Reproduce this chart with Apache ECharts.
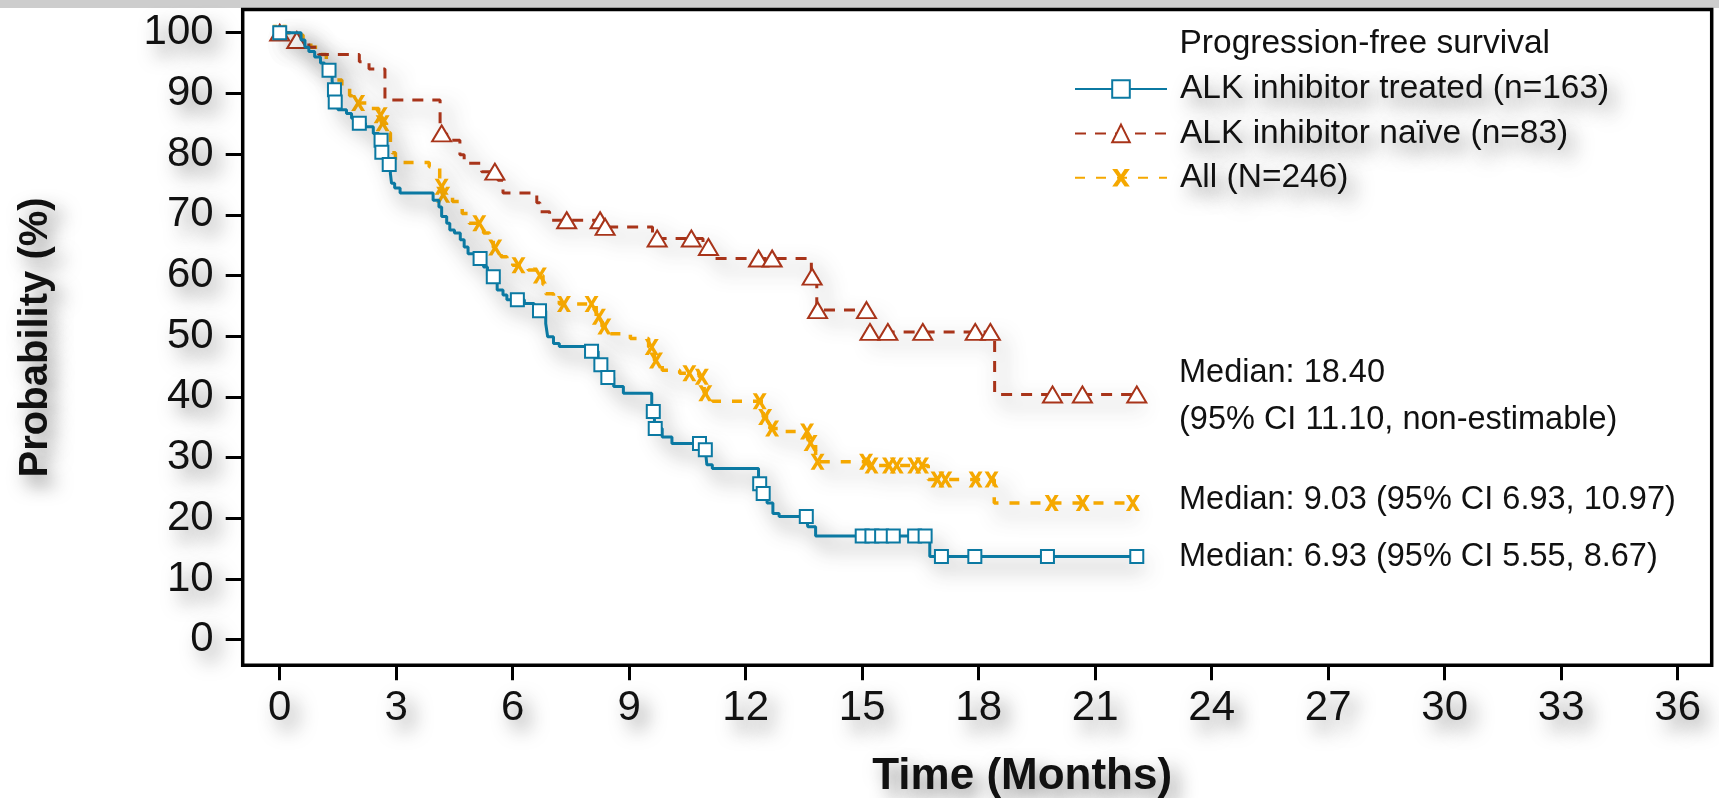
<!DOCTYPE html>
<html>
<head>
<meta charset="utf-8">
<script src="https://cdn.jsdelivr.net/npm/echarts@6/dist/echarts.min.js"></script>
<style>
  html, body { margin: 0; padding: 0; background: #ffffff; }
  #chart { width: 1719px; height: 798px; }
</style>
</head>
<body>
<div id="chart"></div>
<script>
// Axis ticks
const monthTicks = [0, 3, 6, 9, 12, 15, 18, 21, 24, 27, 30, 33, 36];
const probabilityTicks = [0, 10, 20, 30, 40, 50, 60, 70, 80, 90, 100];
// Visible extent of the framed plot area (a little padding beyond the tick range)
const monthExtent = [-0.953, 36.875];
const probabilityExtent = [-4.22, 103.82];

// Kaplan-Meier curves: event times (months) and survival (%) after each event,
// plus censoring times (the survival shown at a censor mark is the curve value there).
const treatedEventT = [0, 0.55, 0.65, 0.75, 0.9, 1.05, 1.15, 1.35, 1.4, 1.42, 1.5, 1.72, 1.85, 1.95, 2.21, 2.41, 2.55, 2.62, 2.7, 2.78,
  2.85, 2.88, 2.96, 3.1, 3.95, 4.1, 4.17, 4.3, 4.38, 4.5, 4.65, 4.75, 4.85, 5.05, 5.25, 5.35, 5.6, 5.75, 5.85, 6.3,
  6.55, 6.85, 6.9, 7.05, 7.2, 7.95, 8.2, 8.4, 8.6, 8.85, 9.58, 9.65, 9.85, 10.1, 10.9, 11.0, 11.14, 12.33, 12.42, 12.55,
  12.7, 12.86, 13.6, 13.8, 16.74];
const treatedEventS = [100, 98.8, 97.6, 96.9, 96.0, 95.0, 93.8, 92.0, 90.6, 88.6, 87.3, 86.7, 85.9, 85.1, 84.5, 83.4, 82.3, 80.3, 79.3, 78.3,
  76.8, 75.2, 74.4, 73.6, 72.4, 71.3, 69.7, 68.6, 67.5, 67.0, 65.9, 64.7, 63.6, 62.8, 61.4, 59.8, 57.6, 56.8, 56.0, 55.4,
  54.2, 52.1, 49.9, 48.8, 48.3, 47.5, 45.3, 43.2, 41.7, 40.6, 37.6, 34.8, 33.4, 32.3, 31.3, 28.8, 28.2, 25.7, 24.1, 22.5,
  20.8, 20.3, 18.6, 17.1, 13.7];
const treatedCensorT = [0, 1.27, 1.41, 1.43, 2.05, 2.61, 2.63, 2.82, 5.16, 5.5, 6.12, 6.69, 8.03, 8.27, 8.45, 9.62, 9.67,
  10.81, 10.96, 12.36, 12.45, 13.56, 15.0, 15.25, 15.5, 15.8, 16.35, 16.62, 17.04, 17.9, 19.77, 22.07];

const naiveEventT = [0, 0.35, 0.75, 1.0, 2.05, 2.3, 2.71, 4.13, 4.3, 4.64, 4.75, 5.2, 5.62, 5.75, 6.62, 6.7, 6.95,
  8.3, 9.6, 10.9, 11.1, 13.69, 13.83, 15.15, 18.41];
const naiveEventS = [100, 98.8, 97.6, 96.4, 95.2, 94.0, 88.9, 83.4, 82.3, 79.9, 78.5, 77.1, 75.7, 73.6, 72.0, 70.5, 69.1,
  68.0, 66.1, 64.7, 62.8, 59.8, 54.3, 50.7, 40.4];
const naiveCensorT = [0, 0.44, 4.17, 5.54, 7.39, 8.25, 8.38, 9.72, 10.6, 11.04, 12.33, 12.68, 13.71, 13.85, 15.11, 15.2,
  15.66, 16.56, 17.91, 18.3, 19.9, 20.67, 22.07];

const allEventT = [0, 0.4, 0.6, 0.8, 1.0, 1.2, 1.35, 1.45, 1.6, 1.8, 1.95, 2.3, 2.55, 2.62, 2.75, 2.85, 2.9, 2.98, 3.85, 4.12,
  4.19, 4.45, 4.7, 4.88, 5.25, 5.4, 5.5, 5.7, 5.85, 6.0, 6.4, 6.6, 6.78, 6.85, 7.05, 7.2, 8.15, 8.3, 8.45, 9.03,
  9.5, 9.65, 9.85, 10.3, 10.8, 10.93, 11.15, 12.45, 12.62, 12.9, 13.62, 13.8, 15.18, 16.7, 18.4];
const allEventS = [100, 99.6, 98.8, 97.6, 96.4, 95.0, 93.5, 92.2, 90.8, 89.6, 88.4, 87.5, 86.4, 85.1, 83.5, 81.8, 80.2, 78.6, 77.9, 74.6,
  73.3, 72.2, 70.2, 68.6, 67.0, 65.8, 64.6, 63.1, 62.3, 61.7, 60.9, 60.0, 58.5, 57.0, 56.0, 55.3, 53.2, 51.6, 50.4, 49.6,
  48.2, 46.0, 44.4, 43.9, 43.3, 40.6, 39.3, 36.7, 34.8, 34.3, 32.4, 29.3, 28.7, 26.4, 22.5];
const allCensorT = [0, 2.02, 2.6, 2.65, 4.17, 4.21, 5.14, 5.55, 6.15, 6.7, 7.32, 8.03, 8.22, 8.36, 9.58, 9.69, 10.55,
  10.87, 10.96, 12.36, 12.5, 12.68, 13.58, 13.67, 13.85, 15.1, 15.24, 15.69, 15.89, 16.34, 16.54, 16.94, 17.14,
  17.92, 18.33, 19.88, 20.68, 21.97];

const seriesNames = ['ALK inhibitor treated (n=163)', 'ALK inhibitor naïve (n=83)', 'All (N=246)'];
const legendTitle = 'Progression-free survival';
const medianNotes = [
  'Median: 18.40',
  '(95% CI 11.10, non-estimable)',
  'Median: 9.03 (95% CI 6.93, 10.97)',
  'Median: 6.93 (95% CI 5.55, 8.67)'
];

const FONT = '"Liberation Sans", Arial, sans-serif';
const BLUE = '#0B79A2';
const RED = '#A8341A';
const GOLD = '#F5A800';
// Soft grey drop shadow behind text and curves
const HAZE = { color: 'rgba(40,40,40,0.55)', blur: 18, x: 8, y: 10 };

// Survival value of a step curve at time t
function survivalAt(ts, ss, t) {
  let s = ss[0];
  for (let i = 0; i < ts.length; i++) {
    if (ts[i] <= t) s = ss[i]; else break;
  }
  return s;
}

// Merge events (no symbol) and censor marks (symbol) into one step series
function kmData(ts, ss, cs) {
  const items = ts.map((t, i) => ({ value: [t, ss[i]], symbol: 'none', order: 0 }));
  cs.forEach(t => items.push({ value: [t, survivalAt(ts, ss, t)], order: 1 }));
  items.sort((a, b) => a.value[0] - b.value[0] || a.order - b.order);
  return items.map(d => d.symbol ? { value: d.value, symbol: d.symbol } : { value: d.value });
}

// Bold "x" censor mark
const xMark = 'path://M0,0H3.8L6.5,4.3L9.2,0H13L8.4,7L13,14H9.2L6.5,9.7L3.8,14H0L4.6,7Z';

const textHaze = {
  textShadowColor: HAZE.color, textShadowBlur: HAZE.blur,
  textShadowOffsetX: HAZE.x, textShadowOffsetY: HAZE.y
};
const lineHaze = {
  shadowColor: 'rgba(40,40,40,0.75)', shadowBlur: 20, shadowOffsetX: 8, shadowOffsetY: 10
};
const noteStyle = (size) => ({
  font: size + 'px ' + FONT, fill: '#111', verticalAlign: 'middle',
  shadowColor: HAZE.color, shadowBlur: HAZE.blur, shadowOffsetX: HAZE.x, shadowOffsetY: HAZE.y
});

const chart = echarts.init(document.getElementById('chart'), null, { renderer: 'canvas' });

chart.setOption({
  animation: false,
  backgroundColor: '#ffffff',
  grid: {
    left: 242.7, right: 7.3, top: 9.5, bottom: 132.7,
    containLabel: false, outerBoundsMode: 'none',
    show: true, borderColor: '#000', borderWidth: 3.5, backgroundColor: 'transparent'
  },
  xAxis: {
    type: 'value', position: 'bottom',
    min: monthExtent[0], max: monthExtent[1],
    axisLine: { show: false, onZero: false },
    axisTick: { show: true, length: 15, customValues: monthTicks, lineStyle: { color: '#000', width: 3 } },
    splitLine: { show: false },
    axisLabel: { customValues: monthTicks, fontFamily: FONT, fontSize: 42, color: '#111', margin: 22, ...textHaze },
    name: 'Time (Months)', nameLocation: 'middle', nameGap: 90,
    nameTextStyle: { fontFamily: FONT, fontSize: 44, fontWeight: 'bold', color: '#111', padding: [0, 0, 0, 90], ...textHaze }
  },
  yAxis: {
    type: 'value', position: 'left',
    min: probabilityExtent[0], max: probabilityExtent[1],
    axisLine: { show: false, onZero: false },
    axisTick: { show: true, length: 17, customValues: probabilityTicks, lineStyle: { color: '#000', width: 3 } },
    splitLine: { show: false },
    axisLabel: { customValues: probabilityTicks, fontFamily: FONT, fontSize: 42, color: '#111', margin: 29, ...textHaze },
    name: 'Probability (%)', nameLocation: 'middle', nameRotate: 90, nameGap: 187,
    nameTextStyle: { fontFamily: FONT, fontSize: 40, fontWeight: 'bold', color: '#111', ...textHaze }
  },
  legend: {
    data: seriesNames,
    orient: 'vertical',
    left: 1074, top: 71, padding: 0,
    itemWidth: 92, itemHeight: 22, itemGap: 8.4,
    selectedMode: false,
    textStyle: { fontFamily: FONT, fontSize: 33.5, color: '#111', lineHeight: 36, padding: [0, 0, 0, 8], ...textHaze }
  },
  graphic: [
    { type: 'rect', left: 0, top: 0, shape: { width: 1719, height: 8 }, style: { fill: '#cdcdcd' }, z: -1 },
    { type: 'text', x: 1179.5, y: 44, style: { text: legendTitle, ...noteStyle(33.5) } },
    { type: 'text', x: 1179, y: 373, style: { text: medianNotes[0], ...noteStyle(32.5) } },
    { type: 'text', x: 1179, y: 420, style: { text: medianNotes[1], ...noteStyle(32.5) } },
    { type: 'text', x: 1179, y: 500, style: { text: medianNotes[2], ...noteStyle(32.5) } },
    { type: 'text', x: 1179, y: 557, style: { text: medianNotes[3], ...noteStyle(32.5) } }
  ],
  series: [
    {
      name: seriesNames[0], type: 'line', step: 'end',
      data: kmData(treatedEventT, treatedEventS, treatedCensorT),
      symbol: 'emptyRect', symbolSize: 13, clip: false, z: 5,
      lineStyle: { color: BLUE, width: 3, type: 'solid', ...lineHaze },
      itemStyle: { color: BLUE, borderColor: BLUE, borderWidth: 3 },
      emphasis: { disabled: true }
    },
    {
      name: seriesNames[1], type: 'line', step: 'end',
      data: kmData(naiveEventT, naiveEventS, naiveCensorT),
      symbol: 'emptyTriangle', symbolSize: [19, 16], clip: false, z: 4,
      lineStyle: { color: RED, width: 3, type: [11, 9], ...lineHaze },
      itemStyle: { color: RED, borderColor: RED, borderWidth: 3 },
      emphasis: { disabled: true }
    },
    {
      name: seriesNames[2], type: 'line', step: 'end',
      data: kmData(allEventT, allEventS, allCensorT),
      symbol: xMark, symbolSize: [14, 16], clip: false, z: 3,
      lineStyle: { color: GOLD, width: 3.5, type: [10, 11], ...lineHaze },
      itemStyle: { color: GOLD, borderWidth: 0 },
      emphasis: { disabled: true }
    }
  ]
});
</script>
</body>
</html>
